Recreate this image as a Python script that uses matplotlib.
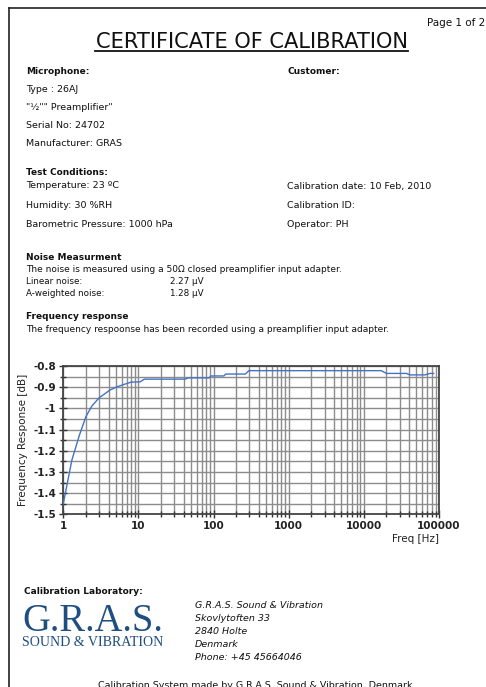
import matplotlib
matplotlib.use('Agg')
import matplotlib.pyplot as plt
from matplotlib.lines import Line2D
from matplotlib.ticker import FixedLocator, FixedFormatter, NullFormatter, LogLocator

W, H = 486, 687

# ---- data ----
freq_hz = [1, 1.3, 1.64, 2, 2.4, 3, 4.2, 5.2, 7.1, 8, 10, 10.5, 12, 42, 46, 87, 92,
           137, 145, 265, 295, 17000, 20000, 37000, 41000, 65000, 76000, 85000]
response_db = [-1.45, -1.244, -1.126, -1.039, -0.989, -0.95, -0.913, -0.898, -0.882,
               -0.876, -0.875, -0.875, -0.862, -0.862, -0.856, -0.856, -0.847,
               -0.847, -0.838, -0.838, -0.822, -0.822, -0.835, -0.835, -0.842,
               -0.842, -0.835, -0.835]
y_ticks = [-1.5, -1.4, -1.3, -1.2, -1.1, -1.0, -0.9, -0.8]
y_tick_labels = ['-1.5', '-1.4', '-1.3', '-1.2', '-1.1', '-1', '-0.9', '-0.8']
y_minor = [-1.45, -1.35, -1.25, -1.15, -1.05, -0.95, -0.85]
x_ticks = [1, 10, 100, 1000, 10000, 100000]
x_tick_labels = ['1', '10', '100', '1000', '10000', '100000']

fig = plt.figure(figsize=(W / 100, H / 100), dpi=100)
fig.patch.set_facecolor('white')


def fx(x):
    return x / W


def fy(y):
    return 1 - y / H


def txt(x, y, s, size=6.8, weight='normal', ha='left', va='center', style='normal',
        family='DejaVu Sans', color='#111111'):
    return fig.text(fx(x), fy(y), s, fontsize=size, fontweight=weight, ha=ha, va=va,
                    fontstyle=style, family=family, color=color)


renderer = fig.canvas.get_renderer()


def fit(t, width_px):
    bb = t.get_window_extent(renderer)
    t.set_fontsize(t.get_fontsize() * width_px / bb.width)


# page border
fig.add_artist(Line2D([fx(9), fx(9)], [fy(8), fy(690)], transform=fig.transFigure,
                      color='#222222', lw=1.2))
fig.add_artist(Line2D([fx(9), fx(490)], [fy(8), fy(8)], transform=fig.transFigure,
                      color='#222222', lw=1.2))

# header
txt(485, 23, 'Page 1 of 2', size=7.5, ha='right')
title = txt(251.5, 48.5, 'CERTIFICATE OF CALIBRATION', size=15, ha='center', va='baseline')
fit(title, 313)
fig.add_artist(Line2D([fx(95), fx(408)], [fy(51), fy(51)], transform=fig.transFigure,
                      color='#111111', lw=1.3))

txt(26, 72, 'Microphone:', size=6.5, weight='bold')
txt(287, 72, 'Customer:', size=6.5, weight='bold')
txt(26, 89.5, 'Type : 26AJ')
txt(26, 107.5, '"½"" Preamplifier"')
txt(26, 125.5, 'Serial No: 24702')
txt(26, 143.5, 'Manufacturer: GRAS')

txt(26, 172.5, 'Test Conditions:', size=6.5, weight='bold')
txt(26, 186, 'Temperature: 23 ºC')
txt(26, 205.5, 'Humidity: 30 %RH')
txt(26, 224.5, 'Barometric Pressure: 1000 hPa')
txt(287, 186, 'Calibration date: 10 Feb, 2010')
txt(287, 205.5, 'Calibration ID:')
txt(287, 224.5, 'Operator: PH')

txt(26, 257.5, 'Noise Measurment', size=6.5, weight='bold')
txt(26, 269.5, 'The noise is measured using a 50Ω closed preamplifier input adapter.', size=6.5)
txt(26, 281.5, 'Linear noise:', size=6.3)
txt(170, 281.5, '2.27 µV', size=6.3)
txt(26, 293.5, 'A-weighted noise:', size=6.3)
txt(170, 293.5, '1.28 µV', size=6.3)

txt(26, 316.5, 'Frequency response', size=6.5, weight='bold')
txt(26, 329, 'The frequency respoonse has been recorded using a preamplifier input adapter.', size=6.5)

# chart
ax = fig.add_axes([fx(63.3), fy(514.3), (439 - 63.3) / W, (514.3 - 366) / H])
ax.plot(freq_hz, response_db, color='#4472c4', lw=1.0, zorder=3)
ax.set_xscale('log')
ax.set_xlim(1, 100000)
ax.set_ylim(-1.5, -0.8)
ax.xaxis.set_major_locator(FixedLocator(x_ticks))
ax.xaxis.set_major_formatter(FixedFormatter(x_tick_labels))
ax.xaxis.set_minor_locator(LogLocator(base=10, subs=range(2, 10), numticks=20))
ax.xaxis.set_minor_formatter(NullFormatter())
ax.yaxis.set_major_locator(FixedLocator(y_ticks))
ax.yaxis.set_major_formatter(FixedFormatter(y_tick_labels))
ax.yaxis.set_minor_locator(FixedLocator(y_minor))
ax.grid(True, which='both', color='#8c8c8c', lw=1.0)
ax.set_axisbelow(True)
for s in ax.spines.values():
    s.set_color('#444444')
    s.set_linewidth(1.3)
ax.tick_params(which='both', direction='inout', color='#333333', width=1.0)
ax.tick_params(which='major', length=6, labelsize=7.5, pad=2)
ax.tick_params(which='minor', length=5)
for lab in ax.get_xticklabels() + ax.get_yticklabels():
    lab.set_fontweight('bold')
    lab.set_color('#222222')
ax.set_ylabel('Frequency Response [dB]', fontsize=7.5, labelpad=4, color='#222222')
txt(439, 539.5, 'Freq [Hz]', size=7.5, ha='right', color='#222222')

# footer
txt(24, 591, 'Calibration Laboratory:', size=6.5, weight='bold')
logo = txt(22, 631, 'G.R.A.S.', size=30, va='baseline', family='Liberation Serif',
           color='#1f4e80')
fit(logo, 141)
sub = txt(22, 646.5, 'SOUND & VIBRATION', size=8, va='baseline', family='Liberation Serif',
          color='#1f4e80')
fit(sub, 141)
for i, line in enumerate(['G.R.A.S. Sound & Vibration', 'Skovlytoften 33', '2840 Holte',
                          'Denmark', 'Phone: +45 45664046']):
    txt(195, 605 + i * 13.2, line, size=6.8, style='italic')
txt(255, 688, 'Calibration System made by G.R.A.S. Sound & Vibration, Denmark',
    size=6.8, ha='center', va='baseline')

fig.savefig('out.png', dpi=100, facecolor='white')
